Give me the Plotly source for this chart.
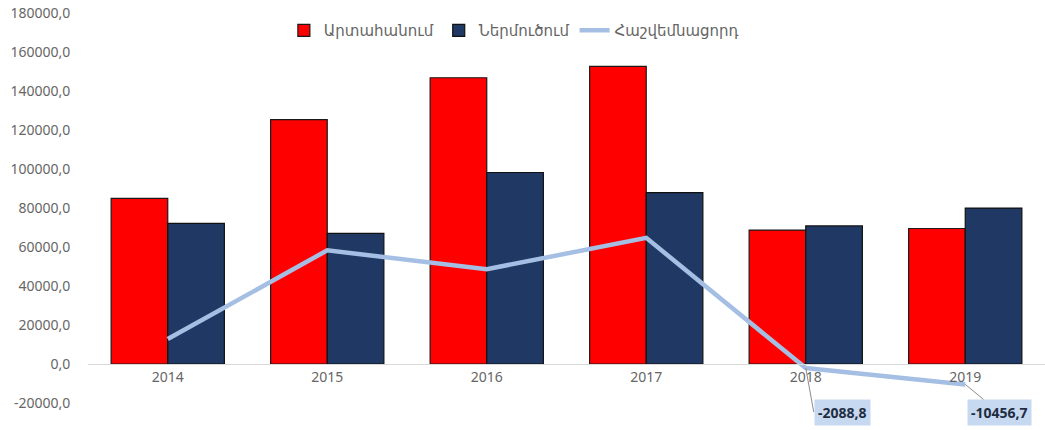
import plotly.graph_objects as go

# Data
years = ["2014", "2015", "2016", "2017", "2018", "2019"]
exports = [84900, 125300, 146800, 152600, 68700, 69500]
imports = [72100, 67000, 98200, 87900, 70788.8, 79956.7]
balance = [12800, 58300, 48600, 64700, -2088.8, -10456.7]
y_ticks = [-20000, 0, 20000, 40000, 60000, 80000, 100000, 120000, 140000, 160000, 180000]
y_tick_text = [f"{v},0" for v in y_ticks]

font_family = "Noto Sans, DejaVu Sans, sans-serif"
grey = "#666666"

fig = go.Figure()

fig.add_trace(go.Bar(
    x=years, y=exports, name="Արտահանում",
    marker=dict(color="#ff0000", line=dict(color="#1a1a1a", width=1.2)),
))
fig.add_trace(go.Bar(
    x=years, y=imports, name="Ներմուծում",
    marker=dict(color="#1f3864", line=dict(color="#111111", width=1.2)),
))
fig.add_trace(go.Scatter(
    x=years, y=balance, name="Հաշվեմնացորդ", mode="lines",
    line=dict(color="#a4bfe3", width=4.5),
))

# Data labels for the two negative balances
label_style = dict(
    showarrow=True, arrowhead=0, arrowwidth=1, arrowcolor="#8c8c8c",
    bgcolor="#c6d9f0", font=dict(family=font_family, size=14, color="#1f2d44", weight="bold"),
    borderpad=3,
)
fig.add_annotation(x=4, y=balance[4], text=f"{balance[4]}".replace(".", ","),
                   ax=8, ay=44, xanchor="left", **label_style)
fig.add_annotation(x=5, y=balance[5], text=f"{balance[5]}".replace(".", ","),
                   ax=34, ay=28, **label_style)

fig.update_layout(
    width=1045, height=430,
    margin=dict(l=88, r=0, t=13, b=27),
    plot_bgcolor="white", paper_bgcolor="white",
    barmode="group", bargap=0.29, bargroupgap=0,
    font=dict(family=font_family, color=grey, size=12),
    showlegend=True,
    legend=dict(
        orientation="h", x=0.445, xanchor="center", y=0.955, yanchor="middle",
        font=dict(size=15, color=grey), bgcolor="rgba(0,0,0,0)",
        traceorder="normal",
    ),
    xaxis=dict(
        type="category", range=[-0.5, 5.5], anchor="free", position=0.1,
        showline=True, linecolor="#d9d9d9", linewidth=1, automargin=False,
        showgrid=False, ticks="", tickfont=dict(size=14, color=grey),
    ),
    yaxis=dict(
        range=[-20000, 180000], tickvals=y_ticks, ticktext=y_tick_text,
        showgrid=False, zeroline=False, showline=False, automargin=False,
        ticks="outside", ticklen=14, tickcolor="rgba(0,0,0,0)",
        tickfont=dict(size=14, color=grey), ticklabeloverflow="allow",
    ),
)

# drop the default 8px page margin so the figure fills the window exactly
fig.write_html("out.html", config={"displayModeBar": False},
               post_script="document.body.style.margin='0';")
